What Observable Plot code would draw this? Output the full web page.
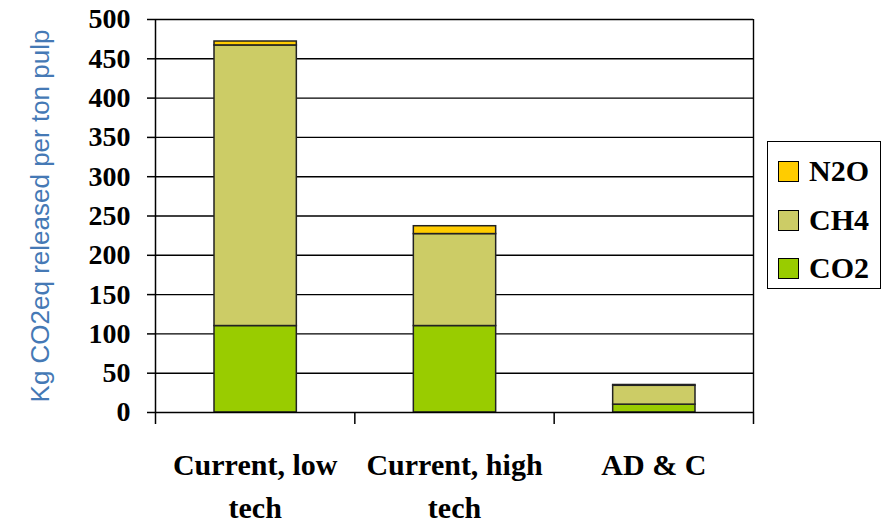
<!DOCTYPE html>
<html>
<head>
<meta charset="utf-8">
<script src="https://cdn.jsdelivr.net/npm/d3@7"></script>
<script src="https://cdn.jsdelivr.net/npm/@observablehq/plot@0.6"></script>
<style>
  html, body { margin: 0; padding: 0; background: #fff; }
  #wrap { position: relative; width: 884px; height: 525px; }
  #legend { position: absolute; left: 767px; top: 141px; width: 112px; height: 146px;
    border: 1.5px solid #000; box-sizing: content-box; font-family: "Liberation Serif", serif;
    font-weight: bold; font-size: 30px; }
  .item { position: absolute; left: 10px; display: flex; align-items: center; height: 24px; }
  .sw { width: 19px; height: 19px; border: 1.2px solid #000; margin-right: 10px; }
</style>
</head>
<body>
<div id="wrap"></div>
<script>
const categories = ["Current, low\ntech", "Current, high\ntech", "AD & C"];
const gases = ["CO2", "CH4", "N2O"];
const co2 = [110, 110, 10];
const ch4 = [357, 117, 24];
const n2o = [5, 10, 1];
const colors = ["#99CC00", "#CCCC66", "#FFCC00"];
const yTicks = [0, 50, 100, 150, 200, 250, 300, 350, 400, 450, 500];

const series = [co2, ch4, n2o];
const rects = [];
categories.forEach((c, i) => {
  let base = 0;
  gases.forEach((g, k) => {
    const v = series[k][i];
    rects.push({i0: i, i1: i + 1, y1: base, y2: base + v, gas: g});
    base += v;
  });
});
const labels = categories.map((c, i) => ({x: i + 0.5, label: c}));
const bounds = d3.range(categories.length + 1);

const chart = Plot.plot({
  width: 884,
  height: 525,
  marginLeft: 155,
  marginRight: 131,
  marginTop: 19,
  marginBottom: 113,
  style: {fontFamily: "'Liberation Serif', serif", fontSize: "28px", fontWeight: "bold", color: "#000", overflow: "visible"},
  x: {type: "linear", domain: [0, categories.length]},
  y: {type: "linear", domain: [0, 500]},
  color: {domain: gases, range: colors},
  marks: [
    Plot.ruleY(yTicks.filter(d => d > 0), {stroke: "#000", strokeWidth: 1.4}),
    Plot.ruleX([categories.length], {y1: 0, y2: 500, stroke: "#000", strokeWidth: 1.4}),
    Plot.rect(rects, {x1: "i0", x2: "i1", y1: "y1", y2: "y2", fill: "gas", insetLeft: 59, insetRight: 58, stroke: "#222", strokeWidth: 1.5}),
    Plot.ruleY([0], {stroke: "#000", strokeWidth: 1.5}),
    Plot.ruleX([0], {y1: 0, y2: 500, stroke: "#000", strokeWidth: 1.5}),
    Plot.axisX({ticks: bounds, tickSize: 12, tickFormat: () => "", label: null, strokeWidth: 1.5}),
    Plot.axisY({ticks: yTicks, tickSize: 8, tickPadding: 17, tickFormat: d3.format("d"), fontSize: 28, fontWeight: "bold", label: null, strokeWidth: 1.5}),
    Plot.text(labels, {x: "x", y: 0, text: "label", lineAnchor: "top", dy: 32, lineHeight: 1.43, fontSize: 30, fontWeight: "bold", fill: "#000"}),
    Plot.text(["Kg CO2eq released per ton pulp"], {frameAnchor: "left", dx: -115, rotate: -90, textAnchor: "middle", fontFamily: "'Liberation Sans', Arial, sans-serif", fontWeight: "normal", fontSize: 26, fill: "#4579B5"})
  ]
});
const wrap = document.getElementById("wrap");
wrap.appendChild(chart);

const legend = document.createElement("div");
legend.id = "legend";
const order = [2, 1, 0];
const tops = [17, 66, 114];
order.forEach((k, j) => {
  const it = document.createElement("div");
  it.className = "item";
  it.style.top = tops[j] + "px";
  it.innerHTML = `<div class="sw" style="background:${colors[k]}"></div><span>${gases[k]}</span>`;
  legend.appendChild(it);
});
wrap.appendChild(legend);
</script>
</body>
</html>
